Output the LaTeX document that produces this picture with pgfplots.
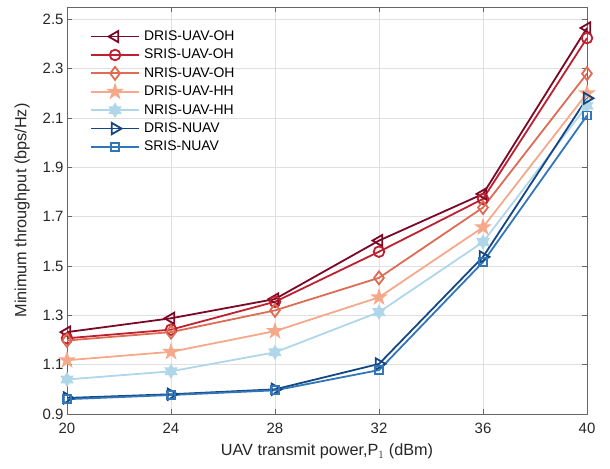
\documentclass[border=0pt]{standalone}
\usepackage{pgfplots}
\pgfplotsset{compat=1.18}
\usepackage{fontspec}
\setmainfont{Liberation Sans}
\definecolor{c1}{RGB}{122,8,38}
\definecolor{c2}{RGB}{190,32,48}
\definecolor{c3}{RGB}{222,108,84}
\definecolor{c4}{RGB}{245,168,138}
\definecolor{c5}{RGB}{176,214,234}
\definecolor{c6}{RGB}{20,70,132}
\definecolor{c7}{RGB}{48,118,184}
\pgfdeclareplotmark{pentagram}{%
 \pgfpathmoveto{\pgfpointpolar{90}{\pgfplotmarksize}}%
 \pgfpathlineto{\pgfpointpolar{126}{0.382\pgfplotmarksize}}%
 \pgfpathlineto{\pgfpointpolar{162}{\pgfplotmarksize}}%
 \pgfpathlineto{\pgfpointpolar{198}{0.382\pgfplotmarksize}}%
 \pgfpathlineto{\pgfpointpolar{234}{\pgfplotmarksize}}%
 \pgfpathlineto{\pgfpointpolar{270}{0.382\pgfplotmarksize}}%
 \pgfpathlineto{\pgfpointpolar{306}{\pgfplotmarksize}}%
 \pgfpathlineto{\pgfpointpolar{342}{0.382\pgfplotmarksize}}%
 \pgfpathlineto{\pgfpointpolar{18}{\pgfplotmarksize}}%
 \pgfpathlineto{\pgfpointpolar{54}{0.382\pgfplotmarksize}}%
 \pgfpathclose\pgfusepathqfillstroke}
\pgfdeclareplotmark{hexagram}{%
 \pgfpathmoveto{\pgfpointpolar{90}{\pgfplotmarksize}}%
 \pgfpathlineto{\pgfpointpolar{120}{0.577\pgfplotmarksize}}%
 \pgfpathlineto{\pgfpointpolar{150}{\pgfplotmarksize}}%
 \pgfpathlineto{\pgfpointpolar{180}{0.577\pgfplotmarksize}}%
 \pgfpathlineto{\pgfpointpolar{210}{\pgfplotmarksize}}%
 \pgfpathlineto{\pgfpointpolar{240}{0.577\pgfplotmarksize}}%
 \pgfpathlineto{\pgfpointpolar{270}{\pgfplotmarksize}}%
 \pgfpathlineto{\pgfpointpolar{300}{0.577\pgfplotmarksize}}%
 \pgfpathlineto{\pgfpointpolar{330}{\pgfplotmarksize}}%
 \pgfpathlineto{\pgfpointpolar{0}{0.577\pgfplotmarksize}}%
 \pgfpathlineto{\pgfpointpolar{30}{\pgfplotmarksize}}%
 \pgfpathlineto{\pgfpointpolar{60}{0.577\pgfplotmarksize}}%
 \pgfpathclose\pgfusepathqfillstroke}
\begin{document}
\begin{tikzpicture}
\begin{axis}[
  name=ax,
  scale only axis,
  width=520bp, height=407bp,
  xmin=20, xmax=40, ymin=0.9, ymax=2.55,
  xtick={20,24,28,32,36,40},
  ytick={0.9,1.1,1.3,1.5,1.7,1.9,2.1,2.3,2.5},
  yticklabel style={/pgf/number format/.cd,fixed,fixed zerofill,precision=1},
  /pgf/number format/assume math mode=true,
  tick label style={font=\fontsize{15}{17}\selectfont, text=black!85},
  xticklabel style={yshift=-6bp},
  label style={font=\fontsize{16.3}{18}\selectfont, text=black!85},
  xlabel={UAV transmit power,P$_{1}$ (dBm)},
  ylabel={Minimum throughput (bps/Hz)},
  xlabel style={yshift=-3bp},
  ylabel style={yshift=6bp},
  grid=major,
  major grid style={line width=0.6bp, draw=black!12},
  axis line style={draw=black!60, line width=0.8bp},
  tick style={draw=black!60, line width=0.8bp},
  tick align=inside,
  major tick length=5bp,
  every axis plot/.append style={line width=1.8bp, mark size=5bp, mark options={solid, fill=white}},
  legend cell align=left,
  legend style={draw=none, fill=none, at={(0.044,0.945)}, anchor=north west,
    font=\fontsize{14}{16}\selectfont, inner sep=0pt, row sep=4.4bp, column sep=4bp,
    nodes={inner sep=0pt, text height=11bp, text depth=3bp}},
  legend image code/.code={\draw[mark repeat=2,mark phase=2] plot coordinates {(0cm,0cm) (0.85cm,0cm) (1.7cm,0cm)};},
]
\addplot[color=c1, mark=triangle, mark size=6.5bp, mark options={rotate=90}] coordinates {(20,1.232)(24,1.288)(28,1.366)(32,1.603)(36,1.792)(40,2.465)};
\addlegendentry{DRIS-UAV-OH}
\addplot[color=c2, mark=o, mark size=5.3bp] coordinates {(20,1.207)(24,1.242)(28,1.355)(32,1.558)(36,1.772)(40,2.424)};
\addlegendentry{SRIS-UAV-OH}
\addplot[color=c3, mark=diamond, mark size=6.5bp] coordinates {(20,1.198)(24,1.232)(28,1.320)(32,1.452)(36,1.737)(40,2.280)};
\addlegendentry{NRIS-UAV-OH}
\addplot[color=c4, mark=pentagram, mark size=6.5bp, mark options={fill=c4}] coordinates {(20,1.118)(24,1.152)(28,1.236)(32,1.373)(36,1.657)(40,2.200)};
\addlegendentry{DRIS-UAV-HH}
\addplot[color=c5, mark=hexagram, mark size=6bp, mark options={fill=c5}] coordinates {(20,1.040)(24,1.073)(28,1.150)(32,1.313)(36,1.597)(40,2.150)};
\addlegendentry{NRIS-UAV-HH}
\addplot[color=c6, mark=triangle, mark size=6.5bp, mark options={rotate=-90}] coordinates {(20,0.965)(24,0.980)(28,1.000)(32,1.103)(36,1.537)(40,2.180)};
\addlegendentry{DRIS-NUAV}
\addplot[color=c7, mark=square, mark size=4bp] coordinates {(20,0.960)(24,0.977)(28,0.996)(32,1.078)(36,1.516)(40,2.110)};
\addlegendentry{SRIS-NUAV}
\end{axis}
\path ([shift={(-67bp,-55bp)}]ax.south west) rectangle ([shift={(23bp,7bp)}]ax.north east);
\end{tikzpicture}
\end{document}
